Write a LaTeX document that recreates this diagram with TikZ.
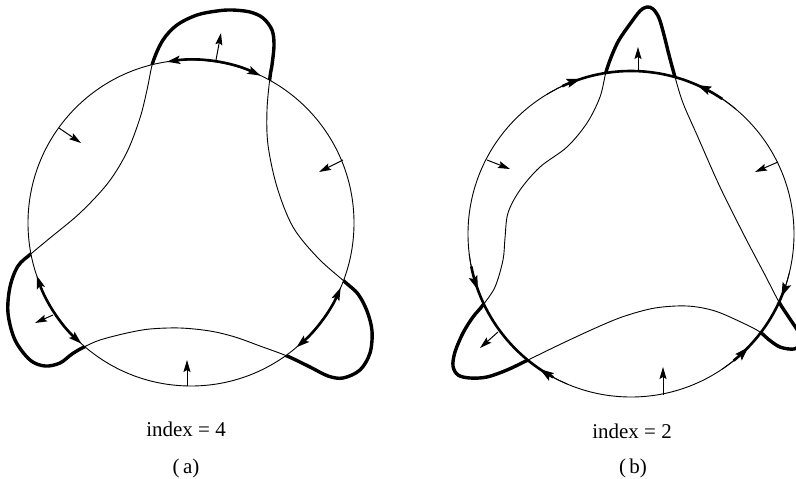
\documentclass[tikz,border=0pt]{standalone}
\usepackage{fontspec}
\setmainfont{Liberation Serif}
\usetikzlibrary{arrows.meta}
\begin{document}
\begin{tikzpicture}[x=1pt,y=-1pt,
  circ/.style={line width=0.9pt},
  curvethin/.style={line width=0.9pt},
  curvethick/.style={line width=3.4pt,line join=round},
  arcthick/.style={line width=2.6pt},
  bigtip/.style={-{Stealth[length=14pt,width=9pt,inset=2.5pt]}},
  arcarrow/.style={line width=0.9pt,bigtip},
  dblarc/.style={line width=2.6pt,{Stealth[length=13pt,width=8pt,inset=2.5pt]}-{Stealth[length=13pt,width=8pt,inset=2.5pt]}},
  vec/.style={line width=1pt,-{Stealth[length=12pt,width=7pt,inset=2pt]}},
  lab/.style={font=\fontsize{21}{25}\selectfont,anchor=base,inner sep=0pt}]
\useasboundingbox (0,0) rectangle (796,479);
\coordinate (ca) at (191,223);
\coordinate (cb) at (631,234);

\def\curveA{plot[smooth cycle,tension=0.55] coordinates {
 (153,62) (163,40) (177,25) (197,15) (217,11) (232,10) (250,12) (263,18) (272,30) (274,45) (272,65) (270,77)
 (267,110) (268,145) (277,187) (293,227) (318,258) (345,282)
 (358,294) (367,311) (372,331) (370,353) (360,370) (343,378) (328,376) (310,367) (287,356)
 (260,346) (235,337) (210,331) (180,328) (150,329) (127,333) (100,340) (84,347)
 (72,354) (60,363) (45,366) (30,360) (15,340) (8,313) (10,287) (18,266) (32,253)
 (50,238) (80,213) (108,183) (127,152) (140,118) (147,90)}}
\def\curveB{plot[smooth cycle,tension=0.55] coordinates {
 (606,72) (612,55) (619,40) (630,24) (640,11) (647,7) (653,9) (659,18) (664,35) (669,55) (675,77)
 (683,103) (697,135) (720,187) (745,237) (765,275) (779,302)
 (790,319) (799,333) (801,343) (794,349) (780,347) (768,339) (760,332)
 (745,324) (715,311) (687,306) (655,308) (625,316) (600,326) (563,343) (528,360)
 (507,370) (487,377) (470,378) (458,375) (453,366) (455,352) (463,333) (473,317) (483,305)
 (495,287) (503,260) (505,238) (508,213) (520,190) (540,167) (567,147) (587,123) (600,97)}}

% ---------- (a) ----------
\draw[curvethick] \curveA;
\fill[white] (ca) circle[radius=163];
\draw[curvethin] \curveA;
\draw[circ] (ca) circle[radius=163];
\draw[dblarc] ([shift={(-98.5:163)}]ca) arc[start angle=-98.5,end angle=-64.7,radius=163];
\draw[dblarc] ([shift={(161.2:163)}]ca) arc[start angle=161.2,end angle=132.2,radius=163];
\draw[dblarc] ([shift={(23.3:163)}]ca) arc[start angle=23.3,end angle=49.7,radius=163];

\coordinate (a1s) at (216,60);  \coordinate (a1e) at (221,33);
\coordinate (a2s) at (53,315);  \coordinate (a2e) at (35,323);
\coordinate (a3s) at (59,128);  \coordinate (a3e) at (81,143);
\coordinate (a4s) at (343,160); \coordinate (a4e) at (319,172);
\coordinate (a5s) at (187,386); \coordinate (a5e) at (187,360);
\foreach \i in {1,...,5} {\draw[vec] (a\i s) -- (a\i e);}

% ---------- (b) ----------
\draw[curvethick] \curveB;
\fill[white] (cb) circle[radius=163];
\draw[curvethin] \curveB;
\draw[circ] (cb) circle[radius=163];
\draw[arcthick] ([shift={(-115:163)}]cb) arc[start angle=-115,end angle=-56,radius=163];
\draw[arcthick] ([shift={(168.5:163)}]cb) arc[start angle=168.5,end angle=118.5,radius=163];
\draw[arcthick] ([shift={(19:163)}]cb) arc[start angle=19,end angle=51,radius=163];
\draw[arcarrow] ([shift={(-121:163)}]cb) arc[start angle=-121,end angle=-108,radius=163];
\draw[arcarrow] ([shift={(-50:163)}]cb) arc[start angle=-50,end angle=-66,radius=163];
\draw[arcarrow] ([shift={(173:163)}]cb) arc[start angle=173,end angle=160,radius=163];
\draw[arcarrow] ([shift={(113:163)}]cb) arc[start angle=113,end angle=124,radius=163];
\draw[arcarrow] ([shift={(14:163)}]cb) arc[start angle=14,end angle=22.6,radius=163];
\draw[arcarrow] ([shift={(56:163)}]cb) arc[start angle=56,end angle=44,radius=163];

\coordinate (b1s) at (638,71);  \coordinate (b1e) at (638,47);
\coordinate (b2s) at (498,332); \coordinate (b2e) at (480,348);
\coordinate (b3s) at (487,160); \coordinate (b3e) at (510,169);
\coordinate (b4s) at (778,162); \coordinate (b4e) at (755,172);
\coordinate (b5s) at (663,395); \coordinate (b5e) at (663,367);
\foreach \i in {1,...,5} {\draw[vec] (b\i s) -- (b\i e);}

% ---------- labels ----------
\node[lab] (la) at (186,436) {index = 4};
\node[lab] (pa) at (186,473) {(\,a)};
\node[lab] (lb) at (632,438) {index = 2};
\node[lab] (pb) at (633,473) {(\,b)};
\end{tikzpicture}
\end{document}
